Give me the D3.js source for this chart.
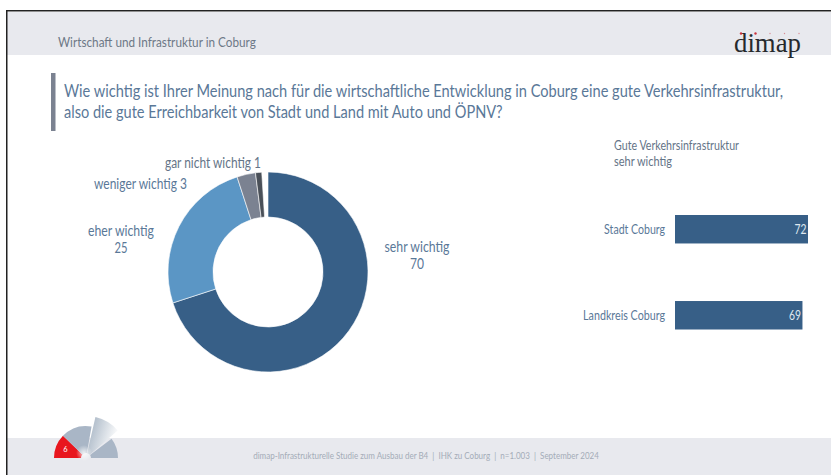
<!DOCTYPE html>
<html lang="de">
<head>
<meta charset="utf-8">
<title>Wirtschaft und Infrastruktur in Coburg</title>
<script src="https://cdn.jsdelivr.net/npm/d3@7/dist/d3.min.js"></script>
<style>
  html, body { margin: 0; padding: 0; background: #fff; }
  svg { display: block; font-family: "Liberation Sans Narrow", "Lato", "Noto Sans", sans-serif; }
  text { white-space: pre; }
</style>
</head>
<body>
<svg id="slide" width="831" height="475"></svg>
<script>
// Survey answers, percent
const answerLabels = ["sehr wichtig", "eher wichtig", "weniger wichtig", "gar nicht wichtig"];
const answerValues = [70, 25, 3, 1];
const answerColors = ["#375f87", "#5b96c5", "#7b8291", "#4a5058"];

// Share answering "sehr wichtig" by area
const areaLabels = ["Stadt Coburg", "Landkreis Coburg"];
const areaValues = [72, 69];

const questionLines = [
  "Wie wichtig ist Ihrer Meinung nach für die wirtschaftliche Entwicklung in Coburg eine gute Verkehrsinfrastruktur,",
  "also die gute Erreichbarkeit von Stadt und Land mit Auto und ÖPNV?"
];
const barTitleLines = ["Gute Verkehrsinfrastruktur", "sehr wichtig"];
const sectionTitle = "Wirtschaft und Infrastruktur in Coburg";
const footerText = "dimap-Infrastrukturelle Studie zum Ausbau der B4  |  IHK zu Coburg  |  n=1.003  |  September 2024";
const pageNumber = "6";

const svg = d3.select("#slide");
const textBlue = "#5a7898";
const textSlate = "#647487";

// Adds a text scaled horizontally to a fixed width, standing in for the condensed house font
function label(x, y, text, width, size, fill, anchor = "start") {
  const node = svg.append("text")
    .attr("text-anchor", anchor)
    .attr("font-size", size)
    .attr("fill", fill)
    .text(text);
  const squeeze = width / node.node().getComputedTextLength();
  return node.attr("transform", `translate(${x},${y}) scale(${squeeze},1)`);
}

// Slide background: header and footer bands, frame lines
svg.append("rect").attr("x", 7).attr("y", 12).attr("width", 824).attr("height", 43).attr("fill", "#e8e9ee");
svg.append("rect").attr("x", 7).attr("y", 438).attr("width", 824).attr("height", 37).attr("fill", "#e8e9ee");
svg.append("rect").attr("x", 6).attr("y", 10).attr("width", 825).attr("height", 1.5).attr("fill", "#222");
svg.append("rect").attr("x", 6).attr("y", 10).attr("width", 1.5).attr("height", 465).attr("fill", "#222");

// Header
label(58, 47, sectionTitle, 198, 14, "#6d7886");
svg.append("text").attr("x", 734).attr("y", 52)
  .attr("font-family", "'Liberation Serif', serif")
  .attr("font-size", 27)
  .attr("fill", "#26292c")
  .attr("textLength", 67)
  .attr("lengthAdjust", "spacingAndGlyphs")
  .text("dimap");
const logoDots = svg.append("g").attr("fill", "#c8202c");
d3.range(5).forEach(i => {
  logoDots.append("circle")
    .attr("cx", 741 + i * 14.5)
    .attr("cy", 33.5)
    .attr("r", i < 2 ? 1.2 : 0.7)
    .attr("opacity", i < 2 ? 0.9 : 0.45);
});

// Question
svg.append("rect").attr("x", 51).attr("y", 73).attr("width", 4.5).attr("height", 58).attr("fill", "#7b8291");
label(64, 97, questionLines[0], 720, 18, textBlue);
label(64, 118, questionLines[1], 439, 18, textBlue);

// Donut of all answers; the scale runs to 100, leaving the rounding gap open at the top
const donutCenter = { x: 268, y: 272 };
const angle = d3.scaleLinear().domain([0, 100]).range([0, 2 * Math.PI]);
const arc = d3.arc().innerRadius(55).outerRadius(100);
const cumulative = d3.cumsum(answerValues);

svg.append("g")
  .attr("transform", `translate(${donutCenter.x},${donutCenter.y})`)
  .selectAll("path")
  .data(answerValues)
  .join("path")
  .attr("d", (d, i) => arc({
    startAngle: angle(cumulative[i] - d),
    endAngle: angle(cumulative[i])
  }))
  .attr("fill", (d, i) => answerColors[i])
  .attr("stroke", "#fff")
  .attr("stroke-width", 0.6);

label(417, 252, answerLabels[0], 65, 15, textBlue, "middle");
label(417, 269, String(answerValues[0]), 14, 15, textBlue, "middle");
label(121, 236, answerLabels[1], 66, 15, textBlue, "middle");
label(121, 253, String(answerValues[1]), 13, 15, textBlue, "middle");
label(94, 189, `${answerLabels[2]} ${answerValues[2]}`, 93, 15, textBlue);
label(165, 168, `${answerLabels[3]} ${answerValues[3]}`, 96, 15, textSlate);

// Bars for the two areas
const x = d3.scaleLinear().domain([0, 72]).range([675, 808]);
const y = d3.scaleBand().domain(areaLabels).range([215, 329.5]).paddingInner(0.669);

label(614, 150, barTitleLines[0], 125, 12.5, textSlate);
label(614, 166, barTitleLines[1], 58, 12.5, textSlate);

svg.append("g").selectAll("rect")
  .data(areaValues)
  .join("rect")
  .attr("x", x(0))
  .attr("y", (d, i) => y(areaLabels[i]))
  .attr("width", d => x(d) - x(0))
  .attr("height", y.bandwidth())
  .attr("fill", "#375f87");

areaLabels.forEach((name, i) => {
  const mid = y(name) + y.bandwidth() / 2 + 4.5;
  label(665, mid, name, name === "Stadt Coburg" ? 61 : 82, 13.5, textBlue, "end");
  label(x(areaValues[i]) - 1.5, mid, String(areaValues[i]), 12, 13.5, "#dfe7ef", "end");
});

// Footer text
label(426, 459, footerText, 346, 9.5, "#a4acb8", "middle");

// Page gauge in the corner
const gauge = svg.append("g").attr("transform", "translate(86,458)");
const deg = d => d * Math.PI / 180;
const gaugeArc = d3.arc().innerRadius(5).outerRadius(32);
const defs = svg.append("defs");
const glare = defs.append("linearGradient").attr("id", "gaugeGlare")
  .attr("gradientUnits", "userSpaceOnUse")
  .attr("x1", 6).attr("y1", -30).attr("x2", 32).attr("y2", -22);
glare.append("stop").attr("offset", 0).attr("stop-color", "#b3bfcc");
glare.append("stop").attr("offset", 1).attr("stop-color", "#ffffff");
const innerGlow = defs.append("radialGradient").attr("id", "gaugeHub");
innerGlow.append("stop").attr("offset", 0).attr("stop-color", "#ffffff").attr("stop-opacity", 0.8);
innerGlow.append("stop").attr("offset", 1).attr("stop-color", "#ffffff").attr("stop-opacity", 0);

gauge.append("path")
  .attr("d", gaugeArc({ startAngle: deg(-90), endAngle: deg(-46) }))
  .attr("fill", "#e8161e");
gauge.append("path")
  .attr("d", gaugeArc({ startAngle: deg(-46), endAngle: deg(10) }))
  .attr("fill", "#a9b6c6");
gauge.append("path")
  .attr("d", d3.arc().innerRadius(5).outerRadius(42)({ startAngle: deg(13), endAngle: deg(49) }))
  .attr("fill", "url(#gaugeGlare)");
gauge.append("path")
  .attr("d", gaugeArc({ startAngle: deg(53), endAngle: deg(90) }))
  .attr("fill", "#a9b6c6");
gauge.append("circle").attr("cx", -2).attr("cy", -5).attr("r", 8).attr("fill", "url(#gaugeHub)");
gauge.append("text").attr("x", -20.5).attr("y", -6)
  .attr("text-anchor", "middle").attr("font-size", 7.5).attr("fill", "#fff")
  .text(pageNumber);
</script>
</body>
</html>
